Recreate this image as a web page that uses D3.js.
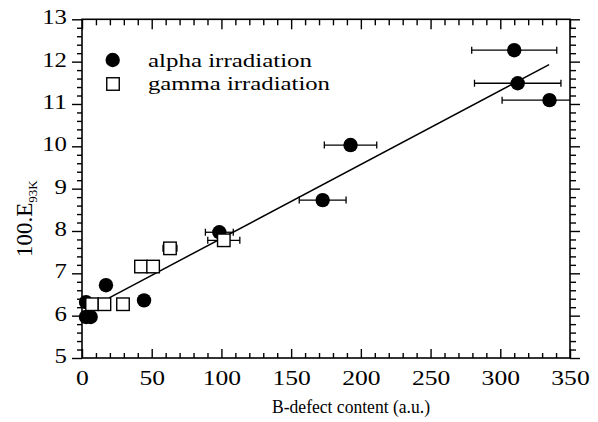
<!DOCTYPE html>
<html><head><meta charset="utf-8">
<script src="https://cdn.jsdelivr.net/npm/d3@7"></script>
<style>body{margin:0;background:#fff} svg{display:block}</style></head>
<body><svg id="c" width="598" height="422"></svg>
<script>
const xTicks=[0,50,100,150,200,250,300,350];
const yTicks=[5,6,7,8,9,10,11,12,13];
const alphaX=[2.9,2.9,6.2,17.2,44.5,98.5,172.6,192.6,310,312.5,335.3];
const alphaY=[6.32,5.97,5.97,6.72,6.36,7.97,8.73,10.03,12.27,11.49,11.09];
const alphaErr=[0,0,0,0,0,10,16.8,18.8,30.5,31,34];
const gammaX=[7.2,16.1,29.4,42.3,51.0,63.1,101.7];
const gammaY=[6.27,6.27,6.27,7.16,7.16,7.59,7.78];
const gammaErr=[0,0,0,0,0,5,11.5];
const fitX=[19.5,335];
const fitY=[6.42,11.93];
const legendLabels=["alpha irradiation","gamma irradiation"];
const xTitle="B-defect content (a.u.)";
const yTitleMain="100.E", yTitleSub="93K";

const svg=d3.select("#c");
const L=82,R=570,T=19.3,B=358;
const x=d3.scaleLinear().domain([0,350]).range([L,R]);
const y=d3.scaleLinear().domain([5,13]).range([B,T]);
const FONT="Liberation Serif, Times New Roman, serif";
const sw=1.4;

function styleAxis(g){g.select(".domain").remove();g.selectAll("line").attr("stroke","#000").attr("stroke-width",sw);}
const xMinor=d3.range(0,351,10).filter(v=>v%50!==0);
const yMinor=d3.range(5,13.001,0.2).map(v=>+v.toFixed(1)).filter(v=>Math.abs(v-Math.round(v))>1e-6);

// bottom
const gb=svg.append("g").attr("transform",`translate(0,${B})`)
  .call(d3.axisBottom(x).tickValues(xTicks).tickSizeInner(-9).tickSizeOuter(0).tickFormat(d3.format("d")));
styleAxis(gb);
gb.selectAll("text").attr("y",27).attr("dy",0).attr("font-family",FONT).attr("font-size",20).attr("fill","#000")
  .attr("textLength",d=>String(d).length*12.8).attr("lengthAdjust","spacingAndGlyphs");
svg.append("g").attr("transform",`translate(0,${B})`).call(d3.axisBottom(x).tickValues(xMinor).tickSize(-5).tickFormat("")).call(styleAxis);
// top
svg.append("g").attr("transform",`translate(0,${T})`).call(d3.axisTop(x).tickValues(xTicks).tickSize(-10).tickFormat("")).call(styleAxis);
svg.append("g").attr("transform",`translate(0,${T})`).call(d3.axisTop(x).tickValues(xMinor).tickSize(-6).tickFormat("")).call(styleAxis);
// left
const gl=svg.append("g").attr("transform",`translate(${L},0)`)
  .call(d3.axisLeft(y).tickValues(yTicks).tickSize(10).tickFormat(d3.format("d")));
styleAxis(gl);
gl.selectAll("text").attr("x",-15).attr("y",4.6).attr("dy",0).attr("font-family",FONT).attr("font-size",20).attr("fill","#000")
  .attr("textLength",d=>String(d).length*12.4).attr("lengthAdjust","spacingAndGlyphs");
svg.append("g").attr("transform",`translate(${L},0)`).call(d3.axisLeft(y).tickValues(yMinor).tickSize(5).tickFormat("")).call(styleAxis);
// right
svg.append("g").attr("transform",`translate(${R},0)`).call(d3.axisRight(y).tickValues(yTicks).tickSize(10).tickFormat("")).call(styleAxis);
svg.append("g").attr("transform",`translate(${R},0)`).call(d3.axisRight(y).tickValues(yMinor).tickSize(6).tickFormat("")).call(styleAxis);

// frame
svg.append("rect").attr("x",L).attr("y",T).attr("width",R-L).attr("height",B-T)
  .attr("fill","none").attr("stroke","#000").attr("stroke-width",1.6);

// error bars
function errBars(xs,ys,es){
  const g=svg.append("g").attr("stroke","#000").attr("stroke-width",1.3);
  xs.forEach((xv,i)=>{
    const e=es[i]; if(!e) return;
    const x0=Math.max(0,xv-e), x1=Math.min(350,xv+e);
    const cy=y(ys[i]);
    g.append("line").attr("x1",x(x0)).attr("x2",x(x1)).attr("y1",cy).attr("y2",cy);
    if(xv-e>=0) g.append("line").attr("x1",x(x0)).attr("x2",x(x0)).attr("y1",cy-3.5).attr("y2",cy+3.5);
    if(xv+e<=350) g.append("line").attr("x1",x(x1)).attr("x2",x(x1)).attr("y1",cy-3.5).attr("y2",cy+3.5);
  });
}
errBars(alphaX,alphaY,alphaErr);
errBars(gammaX,gammaY,gammaErr);

// fit line
svg.append("path").datum(fitX.map((v,i)=>[v,fitY[i]]))
  .attr("d",d3.line().x(d=>x(d[0])).y(d=>y(d[1])))
  .attr("fill","none").attr("stroke","#000").attr("stroke-width",1.5);

// alpha circles
svg.append("g").selectAll("circle").data(alphaX).join("circle")
  .attr("cx",d=>x(d)).attr("cy",(d,i)=>y(alphaY[i])).attr("r",7.2).attr("fill","#000");
// gamma squares
const S=12.5;
svg.append("g").selectAll("rect").data(gammaX).join("rect")
  .attr("x",d=>x(d)-S/2).attr("y",(d,i)=>y(gammaY[i])-S/2).attr("width",S).attr("height",S)
  .attr("fill","#fff").attr("stroke","#000").attr("stroke-width",1.4);

// legend
svg.append("circle").attr("cx",112.7).attr("cy",60).attr("r",7.2).attr("fill","#000");
svg.append("rect").attr("x",113-6.25).attr("y",84-6.25).attr("width",12.5).attr("height",12.5)
  .attr("fill","#fff").attr("stroke","#000").attr("stroke-width",1.4);
const legLens=[164,182];
legendLabels.forEach((t,i)=>{
  svg.append("text").attr("x",148).attr("y",67+i*23).text(t)
    .attr("font-family",FONT).attr("font-size",19.5).attr("fill","#000")
    .attr("textLength",legLens[i]).attr("lengthAdjust","spacingAndGlyphs");
});

// x title
svg.append("text").attr("x",272).attr("y",413).text(xTitle)
  .attr("font-family",FONT).attr("font-size",19.5).attr("fill","#000")
  .attr("textLength",158).attr("lengthAdjust","spacingAndGlyphs");
// y title
const yt=svg.append("text").attr("transform","translate(31.5,257) rotate(-90)")
  .attr("font-family",FONT).attr("font-size",23).attr("fill","#000");
yt.append("tspan").text(yTitleMain);
yt.append("tspan").text(yTitleSub).attr("font-size",13).attr("dy",5);
</script></body></html>
